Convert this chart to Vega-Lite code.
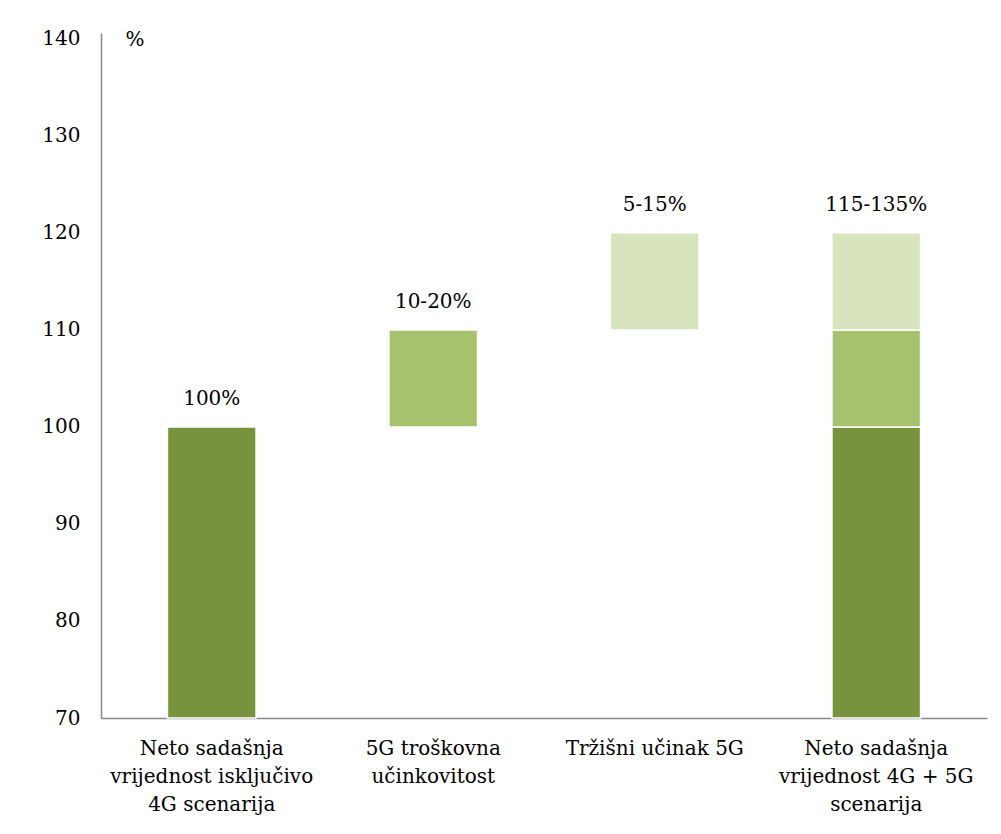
{
  "$schema": "https://vega.github.io/schema/vega-lite/v6.json",
  "autosize": "none",
  "width": 886,
  "height": 685,
  "padding": {"left": 101, "top": 33, "right": 14, "bottom": 116},
  "background": "white",
  "config": {
    "view": {"stroke": null},
    "font": "DejaVu Serif",
    "axis": {"labelFont": "DejaVu Serif", "titleFont": "DejaVu Serif", "labelFontSize": 20, "titleFontSize": 20},
    "text": {"font": "DejaVu Serif", "fontSize": 20}
  },
  "datasets": {
    "bars": [
      {"cat": "Neto sadašnja|vrijednost isključivo|4G scenarija", "lo": 70, "hi": 100, "part": "4G"},
      {"cat": "5G troškovna|učinkovitost", "lo": 100, "hi": 110, "part": "cost"},
      {"cat": "Tržišni učinak 5G", "lo": 110, "hi": 120, "part": "market"},
      {"cat": "Neto sadašnja|vrijednost 4G + 5G|scenarija", "lo": 70, "hi": 100, "part": "4G"},
      {"cat": "Neto sadašnja|vrijednost 4G + 5G|scenarija", "lo": 100, "hi": 110, "part": "cost"},
      {"cat": "Neto sadašnja|vrijednost 4G + 5G|scenarija", "lo": 110, "hi": 120, "part": "market"}
    ],
    "labels": [
      {"cat": "Neto sadašnja|vrijednost isključivo|4G scenarija", "top": 100, "label": "100%"},
      {"cat": "5G troškovna|učinkovitost", "top": 110, "label": "10-20%"},
      {"cat": "Tržišni učinak 5G", "top": 120, "label": "5-15%"},
      {"cat": "Neto sadašnja|vrijednost 4G + 5G|scenarija", "top": 120, "label": "115-135%"}
    ]
  },
  "layer": [
    {
      "data": {"name": "bars"},
      "mark": {"type": "bar", "stroke": "white", "strokeWidth": 1.5},
      "encoding": {
        "x": {
          "field": "cat", "type": "nominal", "sort": null,
          "scale": {"paddingInner": 0.6, "paddingOuter": 0.3},
          "axis": {
            "title": null, "labelAngle": 0, "ticks": false,
            "labelExpr": "split(datum.label, '|')",
            "labelColor": "#000000",
            "labelLineHeight": 28, "labelPadding": 20, "labelBaseline": "top",
            "domainColor": "#888888", "domainWidth": 1.5, "labelLimit": 300
          }
        },
        "y": {
          "field": "lo", "type": "quantitative",
          "scale": {"domain": [70, 140.6], "zero": false, "nice": false},
          "axis": {
            "values": [70, 80, 90, 100, 110, 120, 130, 140],
            "grid": false, "ticks": false,
            "labelColor": "#000000",
            "labelPadding": 21,
            "domainColor": "#888888", "domainWidth": 1.5,
            "title": "%", "titleAngle": 0, "titleAlign": "left", "titleBaseline": "middle",
            "titleX": 24, "titleY": 6,
            "titleFontWeight": "normal", "titleColor": "#000000"
          }
        },
        "y2": {"field": "hi"},
        "color": {
          "field": "part", "type": "nominal",
          "scale": {"domain": ["4G", "cost", "market"], "range": ["#77933C", "#A7C26C", "#D7E4BD"]},
          "legend": null
        }
      }
    },
    {
      "data": {"name": "labels"},
      "mark": {"type": "text", "color": "#000000", "baseline": "alphabetic", "dy": -22},
      "encoding": {
        "x": {"field": "cat", "type": "nominal", "sort": null},
        "y": {"field": "top", "type": "quantitative"},
        "text": {"field": "label"}
      }
    }
  ]
}
